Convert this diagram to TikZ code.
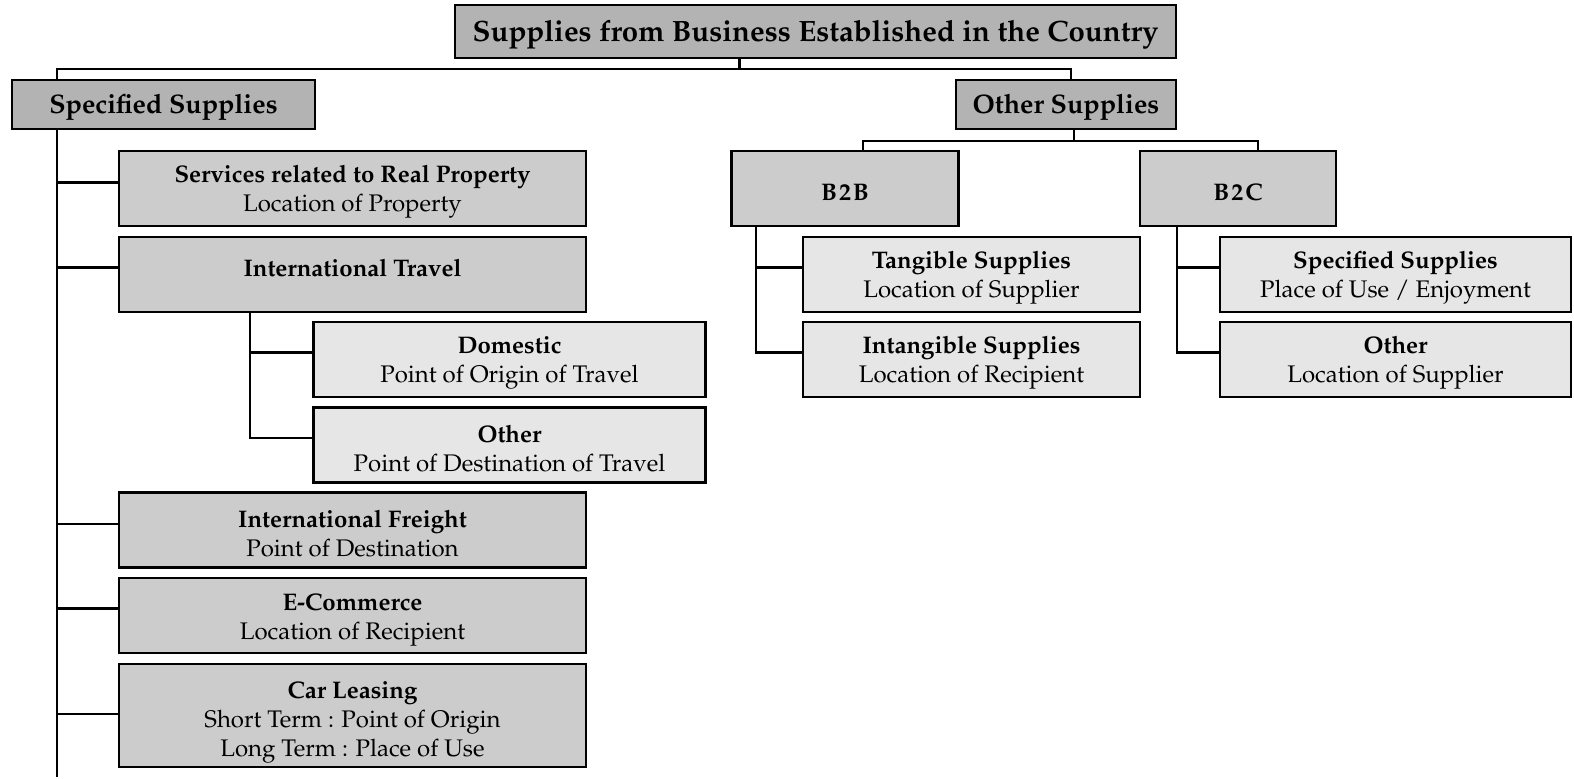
\documentclass[tikz,border=0pt]{standalone}
\usepackage[T1]{fontenc}
\usepackage{mathpazo}
\usepackage{tikz}
\usepackage{xcolor}
\usetikzlibrary{calc}

\definecolor{grisA}{HTML}{B3B3B3}
\definecolor{grisB}{HTML}{CCCCCC}
\definecolor{grisC}{HTML}{E6E6E6}

\newcommand{\tete}[2][11.8pt]{\rule{0pt}{#1}\textbf{#2}}

\begin{document}
\begin{tikzpicture}[x=0.5pt,y=-0.5pt]

\tikzset{
    box/.style = {
    draw, line width=1.1pt, align=center, inner sep=0pt,
    font=\fontsize{12}{14.5}\selectfont
    }
}

\tikzstyle{titre}=[box, fill=grisA, line width=1.4pt, font=\fontsize{14.7}{17}\selectfont\bfseries]
\tikzstyle{groupe}=[box, fill=grisA, font=\fontsize{13.4}{16}\selectfont\bfseries]
\tikzstyle{rubrique}=[box, fill=grisB, minimum height=37.5pt]
\tikzstyle{detail}=[box, fill=grisC, minimum height=37.5pt]
\tikzstyle{lien}=[line width=1.1pt]

\useasboundingbox (0,0) rectangle (1574,779);

\node (pays) [titre, minimum width=360.5pt, minimum height=26.5pt] at (815.5,31.5) {\tete[13.7pt]{Supplies from Business Established in the Country}};

\node (spec) [groupe, minimum width=151.5pt, minimum height=24.5pt] at (163.5,104.5) {\tete[12.8pt]{Specified Supplies}};
\node (autres) [groupe, minimum width=110pt, minimum height=24.5pt] at (1066,104.5) {\tete[12.8pt]{Other Supplies}};

% Specified Supplies
\node (immo) [rubrique, minimum width=233.5pt] at (352.5,188.5) {\tete{Services related to Real Property}\\ Location of Property};
\node (voyage) [rubrique, minimum width=233.5pt] at (352.5,274.5) {\raisebox{3.5pt}[\height][\depth]{\textbf{International Travel}}};
\node (dom) [detail, minimum width=196pt] at (509.5,359.5) {\tete{Domestic}\\ Point of Origin of Travel};
\node (dest) [detail, minimum width=196pt] at (509.5,445) {\tete{Other}\\ Point of Destination of Travel};
\node (fret) [rubrique, minimum width=233.5pt] at (352.5,530) {\tete{International Freight}\\ Point of Destination};
\node (ecom) [rubrique, minimum width=233.5pt] at (352.5,615.5) {\tete[13pt]{E-Commerce}\\ Location of Recipient};
\node (auto) [rubrique, minimum width=233.5pt, minimum height=51.5pt] at (352.5,715.5) {\tete[15pt]{Car Leasing}\\ Short Term : Point of Origin\\ Long Term : Place of Use};

% Other Supplies
\node (btob) [rubrique, minimum width=113.5pt] at (845,188.5) {\tete{B\kern1pt2\kern1pt B}};
\node (btoc) [rubrique, minimum width=98pt] at (1238,188.5) {\tete{B\kern1pt2\kern1pt C}};
\node (tang) [detail, minimum width=168.5pt] at (971.5,274.5) {\tete{Tangible Supplies}\\ Location of Supplier};
\node (intang) [detail, minimum width=168.5pt] at (971.5,359.5) {\tete{Intangible Supplies}\\ Location of Recipient};
\node (usage) [detail, minimum width=175.5pt] at (1395.5,274.5) {\tete{Specified Supplies}\\ Place of Use / Enjoyment};
\node (fourn) [detail, minimum width=175.5pt] at (1395.5,359.5) {\tete{Other}\\ Location of Supplier};

\coordinate (haut) at ($(pays.south)+(-76,10)$);
\coordinate (finG) at (57,777);
\coordinate (bas) at ($(autres.south)+(8,11)$);

\draw[lien] ($(pays.south)+(-76,0)$) -- (haut);
\draw[lien] (spec.north -| finG) |- (haut) -| ($(autres.north)+(5,0)$);

\draw[lien] (spec.south -| finG) -- (finG);
\draw[lien] ([yshift=3pt]immo.west -| finG) -- ([yshift=3pt]immo.west);
\draw[lien] ([yshift=3.5pt]voyage.west -| finG) -- ([yshift=3.5pt]voyage.west);
\draw[lien] ([yshift=3pt]fret.west -| finG) -- ([yshift=3pt]fret.west);
\draw[lien] ([yshift=3.5pt]ecom.west -| finG) -- ([yshift=3.5pt]ecom.west);
\draw[lien] ([yshift=0.75pt]auto.west -| finG) -- ([yshift=0.75pt]auto.west);

\draw[lien] ($(voyage.south)+(-102.5,0)$) |- ([yshift=3.5pt]dest.west);
\draw[lien] ([yshift=3.5pt]dom.west -| 250,0) -- ([yshift=3.5pt]dom.west);

\draw[lien] ($(autres.south)+(8,0)$) -- (bas);
\draw[lien] ($(btob.north)+(18,0)$) |- (bas) -| ($(btoc.north)+(20,0)$);

\draw[lien] ($(btob.south)+(-89,0)$) |- ([yshift=3.5pt]intang.west);
\draw[lien] ([yshift=3.5pt]tang.west -| 756,0) -- ([yshift=3.5pt]tang.west);
\draw[lien] ($(btoc.south)+(-61,0)$) |- ([yshift=3.5pt]fourn.west);
\draw[lien] ([yshift=3.5pt]usage.west -| 1177,0) -- ([yshift=3.5pt]usage.west);

\end{tikzpicture}
\end{document}
